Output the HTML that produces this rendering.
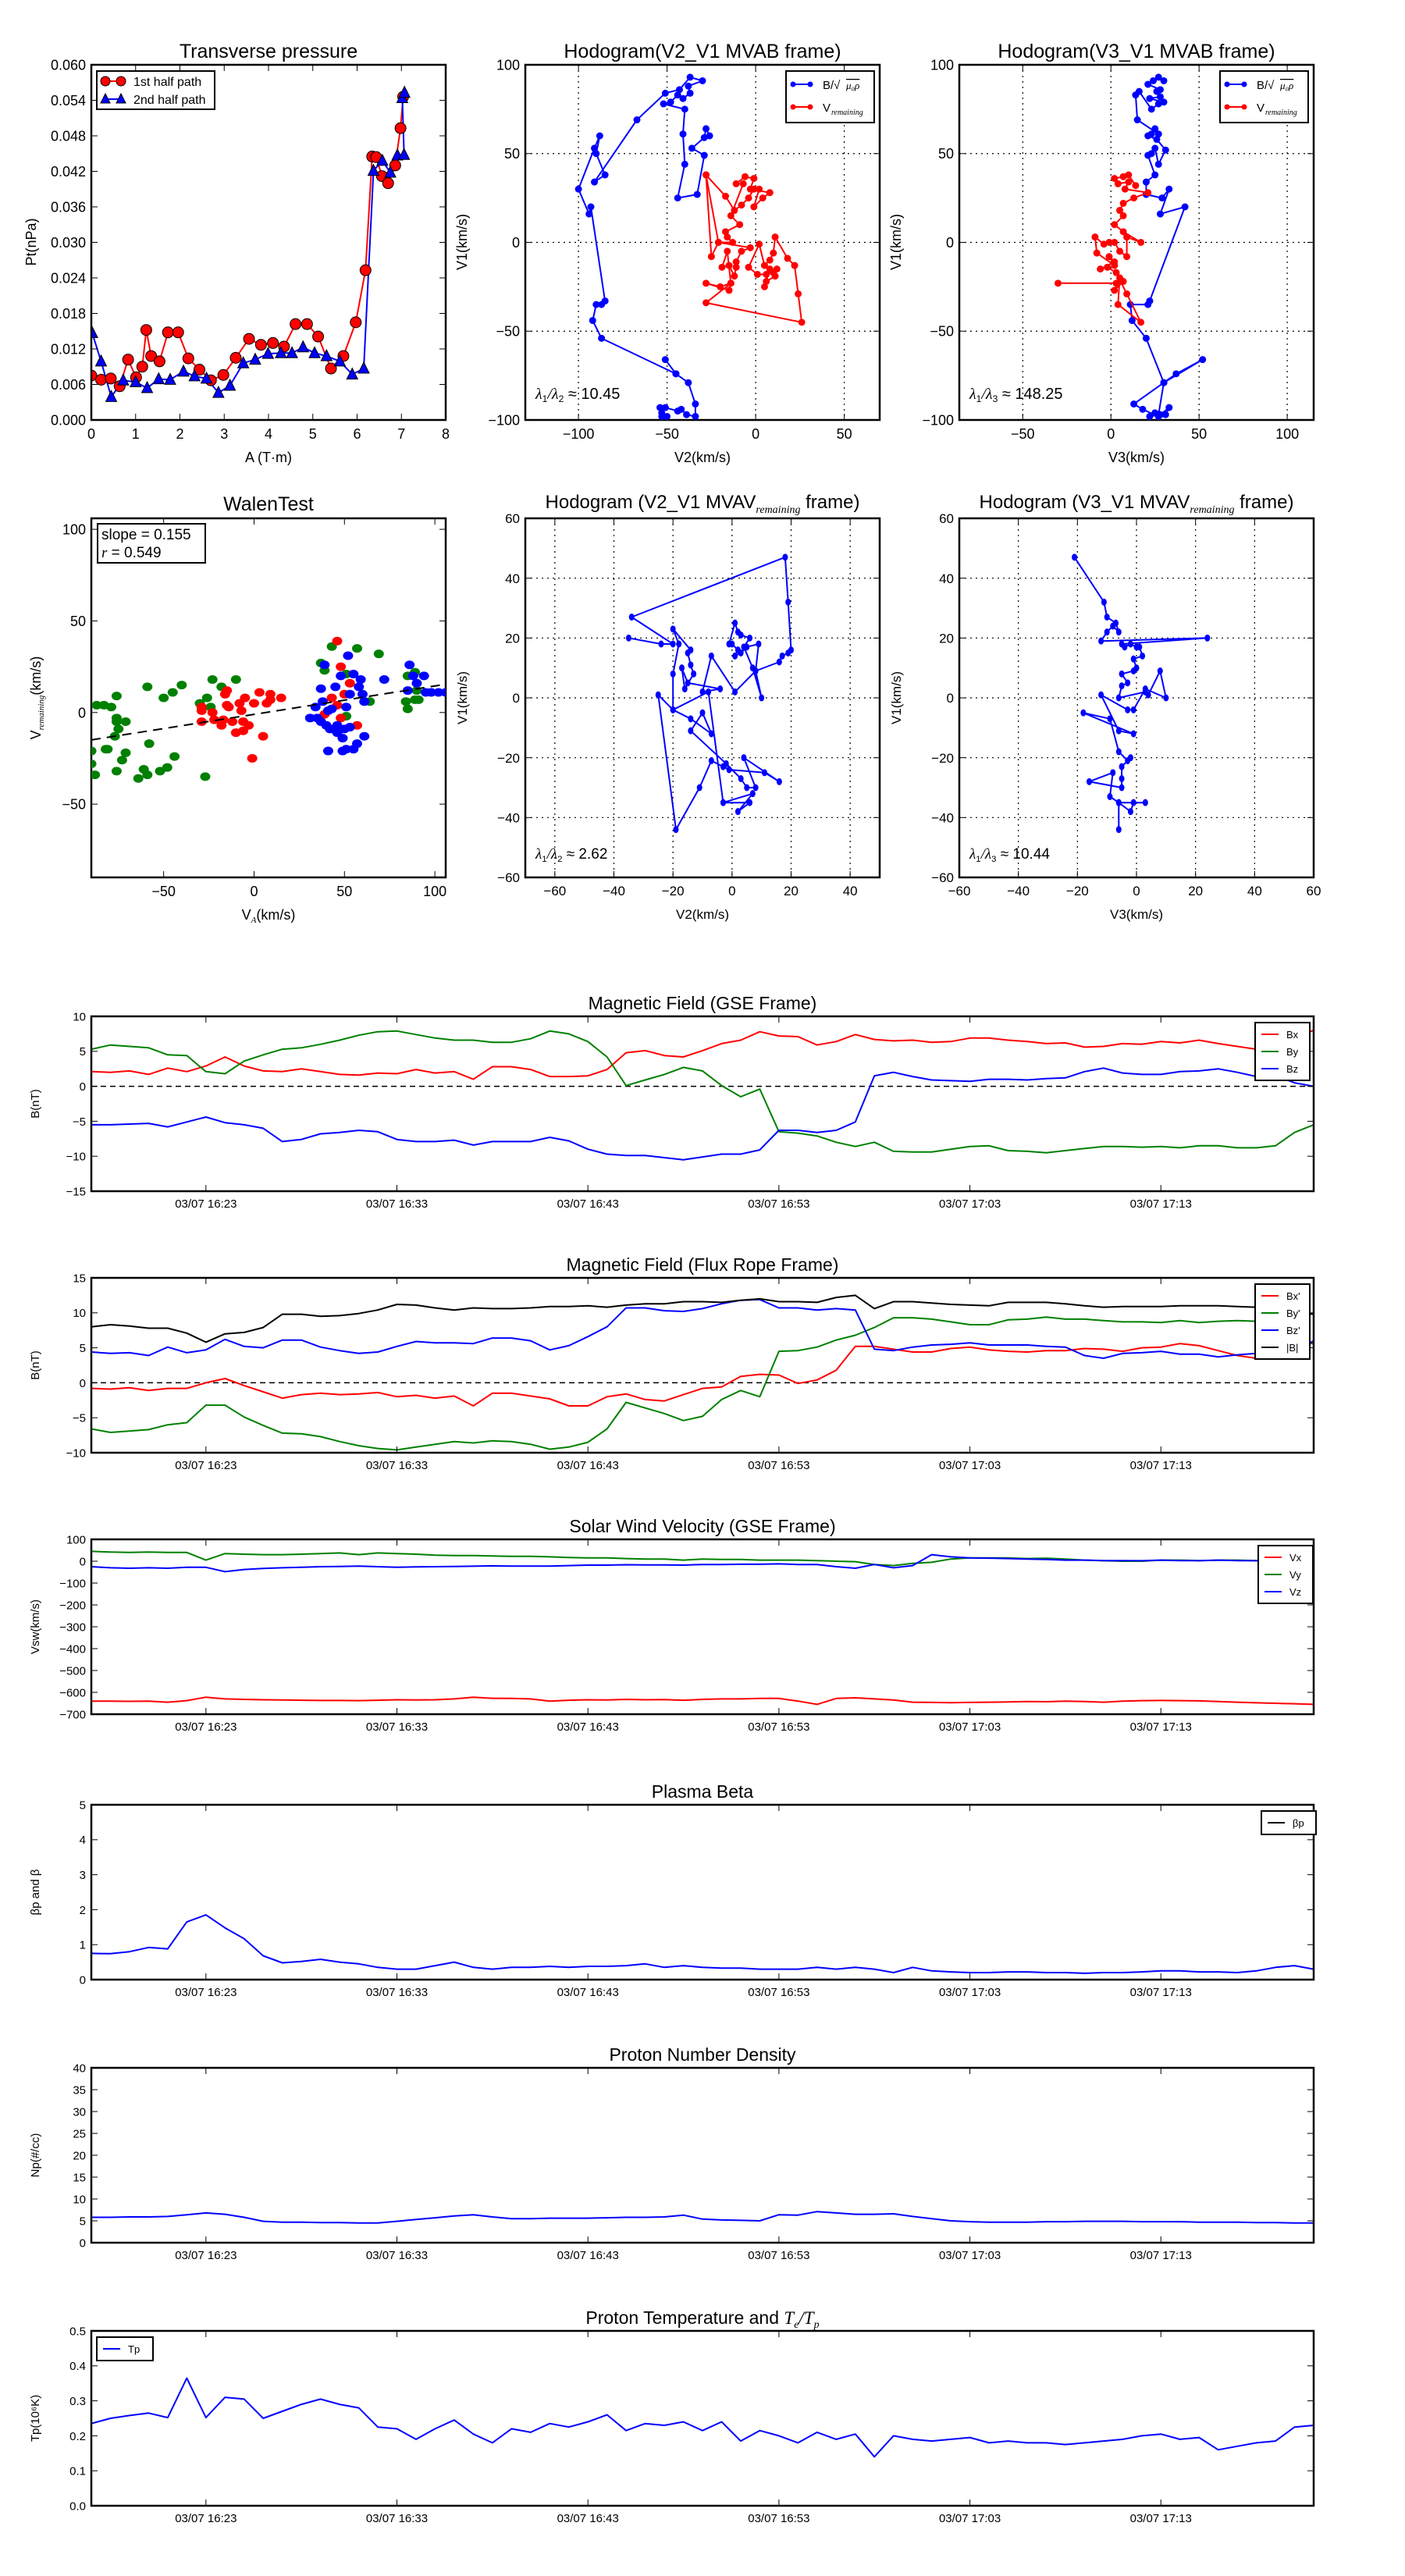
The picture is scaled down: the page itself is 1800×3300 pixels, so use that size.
<!DOCTYPE html>
<html><head><meta charset="utf-8"><style>
html,body{margin:0;padding:0;background:#fff;}
svg{display:block;font-family:"Liberation Sans",sans-serif;}
</style></head><body>
<svg id="fig" xmlns="http://www.w3.org/2000/svg" width="1800" height="3300" viewBox="0 0 1800 3300"><defs id="defs"></defs></svg>
<script>
// ---------- DATA ----------
const ptRedA=[0,0.22,0.44,0.64,0.83,1.01,1.15,1.24,1.35,1.54,1.73,1.96,2.19,2.44,2.70,2.98,3.26,3.56,3.83,4.10,4.35,4.61,4.87,5.12,5.41,5.69,5.97,6.19,6.34,6.43,6.56,6.70,6.86,6.98,7.04];
const ptRedP=[0.0075,0.0068,0.007,0.0057,0.0102,0.0072,0.009,0.0152,0.0108,0.0099,0.0148,0.0148,0.0104,0.0085,0.0067,0.0076,0.0105,0.0137,0.0127,0.013,0.0124,0.0162,0.0162,0.0141,0.0087,0.0108,0.0165,0.0253,0.0445,0.0444,0.0412,0.040,0.043,0.0493,0.0546];
const ptBlueA=[0.02,0.22,0.45,0.72,1.0,1.26,1.52,1.78,2.08,2.33,2.60,2.87,3.13,3.43,3.70,3.99,4.28,4.53,4.78,5.04,5.31,5.61,5.89,6.15,6.37,6.57,6.75,6.91,7.06,7.02,7.07];
const ptBlueP=[0.0147,0.0099,0.0039,0.0067,0.0064,0.0054,0.0069,0.0068,0.0082,0.0074,0.007,0.0046,0.0058,0.0096,0.0102,0.0112,0.0113,0.0113,0.0123,0.0113,0.0108,0.0099,0.0077,0.0087,0.0421,0.0438,0.0418,0.0447,0.0448,0.0544,0.0553];
const ptXTicks=[0,1,2,3,4,5,6,7,8];
const ptYTicks=[0,0.006,0.012,0.018,0.024,0.030,0.036,0.042,0.048,0.054,0.060];

const h1Blue=[[-53,-98],[-50,-98],[-53,-96],[-54,-93],[-51,-93],[-44,-95],[-42,-94],[-39,-97],[-34,-98],[-34,-91],[-38,-79],[-45,-74],[-51,-66],[-45,-74],[-87,-54],[-92,-44],[-90,-35],[-87,-35],[-85,-33],[-93,20],[-94,16],[-100,30],[-91,53],[-88,60],[-90,50],[-85,38],[-91,34],[-67,69],[-51,84],[-43,86],[-37,93],[-30,91],[-38,88],[-37,84],[-41,81],[-44,83],[-48,79],[-52,78],[-40,75],[-41,61],[-40,44],[-44,25],[-33,27],[-29,49],[-36,53],[-29,59],[-28,64],[-26,60]];
const h1Red=[[-28,38],[-17,26],[-12,18],[-8,21],[-4,25],[-1,30],[2,30],[-1,20],[4,25],[8,28],[-3,30],[-1,36],[-6,37],[-11,33],[-7,33],[-14,15],[-9,10],[-17,6],[-16,3],[-13,0],[-21,0],[-25,-8],[-28,38],[-21,0],[-3,-3],[-8,-5],[-11,-11],[-11,-14],[-12,-19],[-15,-13],[-19,-14],[-16,-5],[-14,-23],[-15,-27],[-28,-23],[-20,-25],[-14,-23],[-28,-34],[26,-45],[24,-29],[22,-13],[18,-9],[11,3],[10,-6],[8,-10],[5,-13],[2,-1],[-4,-14],[1,-18],[6,-18],[10,-17],[12,-15],[11,-19],[6,-22],[5,-25],[8,-15]];
const h2Blue=[[22,-98],[28,-97],[33,-93],[31,-97],[25,-96],[27,-98],[18,-94],[13,-91],[30,-79],[37,-74],[52,-66],[30,-79],[27,-97],[30,-79],[20,-54],[12,-44],[11,-35],[21,-35],[22,-33],[42,20],[28,16],[33,30],[29,25],[20,27],[20,34],[25,38],[21,49],[23,50],[25,53],[27,44],[31,52],[26,58],[21,60],[23,61],[25,64],[27,61],[15,69],[14,83],[16,85],[23,75],[27,78],[30,79],[22,81],[28,82],[26,85],[28,86],[21,89],[24,91],[27,93],[30,91]];
const h2Red=[[-30,-23],[3,-23],[7,-22],[2,-27],[5,-20],[4,-35],[17,-45],[9,-29],[3,-17],[-2,-14],[-6,-15],[2,-11],[-1,-8],[2,-13],[-8,-6],[-9,3],[-4,-1],[-1,0],[2,0],[5,-5],[9,-8],[9,3],[17,0],[7,6],[2,10],[7,15],[5,18],[7,22],[13,25],[21,28],[8,30],[10,34],[4,33],[2,36],[7,37],[10,38],[14,32]];

const walenGreen=[[-90,-21],[-90,-28],[-88,-34],[-87,4],[-83,4],[-79,3],[-76,9],[-76,-3],[-76,-5],[-75,-9],[-71,-5],[-77,-13],[-82,-20],[-81,-20],[-76,-32],[-73,-26],[-71,-22],[-64,-36],[-61,-31],[-59,-34],[-58,-17],[-59,14],[-50,8],[-52,-32],[-48,-30],[-45,11],[-44,-24],[-40,15],[-30,5],[-27,-35],[-26,8],[-24,3],[-23,18],[-18,14],[-10,18],[37,27],[39,23],[43,36],[51,21],[51,-2],[57,35],[64,6],[69,32],[84,6],[85,2],[85,20],[89,22],[89,7],[91,7],[90,12]];
const walenRed=[[-29,3],[-29,-5],[-29,1],[-23,0],[-22,-4],[-18,-7],[-17,-4],[-16,10],[-15,12],[-15,4],[-14,3],[-12,-5],[-10,-11],[-8,5],[-7,1],[-6,-5],[-6,-10],[-5,8],[-3,-7],[-1,-25],[0,5],[3,11],[5,-13],[7,5],[9,10],[9,7],[15,8],[39,-1],[46,39],[48,25],[48,-3],[53,16],[57,-7],[43,8],[46,4],[50,10]];
const walenBlue=[[31,-3],[34,3],[35,-3],[37,-5],[37,13],[38,6],[39,26],[40,-7],[41,-21],[41,1],[42,-9],[43,2],[45,14],[46,-7],[46,-11],[48,20],[49,-14],[49,-21],[50,-9],[51,3],[51,-20],[52,31],[53,10],[53,-8],[55,-20],[55,21],[57,-17],[58,14],[59,18],[60,10],[61,6],[61,-13],[72,18],[85,12],[86,26],[88,20],[90,16],[94,20],[95,11],[98,11],[102,11],[106,11]];
const walenSlope=0.155, walenIntercept=-1;

const h3Blue=[[-35,20],[-24,18],[-20,18],[-34,27],[18,47],[19,32],[20,16],[19,15],[17,14],[16,12],[8,9],[9,18],[5,17],[3,15],[1,14],[2,16],[0,18],[-1,18],[1,25],[2,22],[3,21],[6,20],[4,17],[7,10],[10,0],[8,9],[1,2],[-7,14],[-10,2],[-4,3],[-15,5],[-17,10],[-16,3],[-13,8],[-14,11],[-15,15],[-14,16],[-20,23],[-18,18],[-20,8],[-20,-4],[-25,1],[-19,-44],[-11,-30],[-7,-21],[-3,-23],[-1,-24],[11,-25],[16,-28],[4,-20],[8,-30],[5,-30],[3,-27],[-2,-22],[-14,-11],[-10,-5],[-7,-12],[-14,-7],[-20,-4],[-8,2],[-3,-35],[6,-35],[2,-38],[7,-32],[-3,-35]];
const h4Blue=[[-21,47],[-11,32],[-10,27],[-7,25],[-6,22],[-8,24],[-10,22],[-12,19],[24,20],[-5,18],[-4,17],[-2,18],[0,17],[1,17],[2,14],[-1,13],[0,10],[-1,9],[-5,8],[-3,5],[-5,4],[-6,0],[3,2],[4,1],[8,9],[10,0],[3,3],[-1,-4],[-3,-4],[-12,1],[-6,-11],[-1,-12],[-18,-5],[-9,-7],[-6,-18],[-3,-21],[-2,-20],[-5,-23],[-5,-27],[-5,-30],[-16,-28],[-8,-25],[-9,-33],[-6,-35],[-2,-38],[-1,-35],[3,-35],[-6,-35],[-6,-44]];

const timeTickLabels=["03/07 16:23","03/07 16:33","03/07 16:43","03/07 16:53","03/07 17:03","03/07 17:13"];
const timeTickMinutes=[6,16,26,36,46,56];
const gseBx=[2.1,2.0,2.2,1.7,2.6,2.1,2.9,4.2,2.9,2.2,2.1,2.5,2.1,1.7,1.6,1.9,1.8,2.4,1.9,2.1,1.0,2.8,2.8,2.4,1.4,1.4,1.5,2.4,4.8,5.1,4.4,4.2,5.1,6.1,6.6,7.8,7.2,7.1,5.9,6.4,7.4,6.7,6.5,6.6,6.3,6.4,6.9,6.9,6.6,6.4,6.1,6.2,5.6,5.7,6.1,6.0,6.4,6.2,6.6,6.1,5.7,5.3,5.0,7.0,8.0];
const gseBy=[5.3,5.9,5.7,5.5,4.5,4.4,2.1,1.8,3.6,4.5,5.3,5.5,6.0,6.6,7.3,7.8,7.9,7.4,6.9,6.6,6.6,6.3,6.3,6.8,7.9,7.5,6.4,4.2,0.1,0.9,1.7,2.7,2.2,0.1,-1.5,-0.4,-6.5,-6.7,-7.1,-8.0,-8.6,-8.0,-9.3,-9.4,-9.4,-9.0,-8.6,-8.5,-9.2,-9.3,-9.5,-9.2,-8.9,-8.6,-8.6,-8.7,-8.6,-8.8,-8.5,-8.5,-8.8,-8.8,-8.5,-6.6,-5.5];
const gseBz=[-5.5,-5.5,-5.4,-5.3,-5.8,-5.1,-4.4,-5.2,-5.5,-6.0,-7.9,-7.6,-6.8,-6.6,-6.3,-6.5,-7.6,-7.9,-7.9,-7.7,-8.4,-7.9,-7.9,-7.9,-7.3,-7.8,-9.0,-9.7,-9.9,-9.9,-10.2,-10.5,-10.1,-9.7,-9.7,-9.1,-6.3,-6.3,-6.6,-6.3,-5.1,1.5,2.0,1.4,0.9,0.8,0.7,1.0,1.0,0.9,1.1,1.2,2.1,2.6,1.9,1.7,1.7,2.1,2.2,2.5,2.0,1.4,1.5,0.5,0.0];
const frBx=[-0.8,-0.9,-0.7,-1.1,-0.8,-0.8,0.0,0.6,-0.4,-1.3,-2.2,-1.7,-1.5,-1.7,-1.6,-1.4,-2.0,-1.8,-2.2,-1.9,-3.3,-1.5,-1.5,-1.9,-2.3,-3.3,-3.3,-2.0,-1.6,-2.4,-2.6,-1.7,-0.8,-0.6,0.9,1.2,1.1,-0.1,0.4,1.8,5.2,5.2,4.8,4.4,4.4,4.9,5.1,4.7,4.5,4.4,4.6,4.6,4.9,4.8,4.5,5.0,5.1,5.6,5.3,4.6,3.9,3.5,3.8,4.5,5.8];
const frBy=[-6.6,-7.1,-6.9,-6.7,-6.0,-5.7,-3.2,-3.2,-4.9,-6.1,-7.2,-7.3,-7.7,-8.4,-9.0,-9.4,-9.6,-9.2,-8.8,-8.4,-8.6,-8.3,-8.4,-8.8,-9.5,-9.2,-8.5,-6.6,-2.8,-3.6,-4.4,-5.4,-4.8,-2.4,-1.1,-2.0,4.5,4.6,5.1,6.1,6.8,7.9,9.3,9.3,9.1,8.7,8.3,8.3,9.0,9.1,9.4,9.1,9.1,8.9,8.7,8.7,8.6,8.9,8.6,8.8,8.9,8.8,8.9,7.0,5.5];
const frBz=[4.4,4.2,4.3,3.9,5.1,4.3,4.7,6.2,5.2,5.0,6.1,6.1,5.1,4.6,4.2,4.4,5.2,5.9,5.7,5.7,5.6,6.4,6.4,6.0,4.7,5.3,6.6,8.0,10.7,10.7,10.3,10.2,10.6,11.3,11.8,11.9,10.7,10.7,10.4,10.6,10.4,4.8,4.6,5.1,5.4,5.5,5.7,5.4,5.4,5.4,5.2,5.1,3.9,3.5,4.2,4.3,4.5,4.1,4.1,3.7,4.0,4.2,3.5,4.5,6.0];
const frBt=[8.0,8.3,8.1,7.8,7.8,7.1,5.8,7.0,7.2,7.9,9.8,9.8,9.5,9.6,9.9,10.4,11.2,11.1,10.7,10.4,10.7,10.6,10.6,10.7,10.9,10.9,11.0,10.8,11.1,11.3,11.3,11.6,11.6,11.5,11.8,12.0,11.6,11.6,11.5,12.2,12.5,10.6,11.6,11.6,11.4,11.2,11.1,11.0,11.5,11.5,11.5,11.3,11.0,10.8,10.9,10.9,10.9,11.0,11.0,11.0,10.9,10.8,10.5,10.0,9.8];
const swVx=[-640,-640,-641,-640,-645,-638,-622,-630,-632,-634,-635,-636,-637,-637,-638,-636,-634,-635,-634,-630,-622,-627,-628,-630,-640,-636,-634,-635,-632,-634,-633,-636,-632,-630,-630,-628,-628,-640,-655,-628,-625,-630,-635,-645,-646,-647,-646,-645,-644,-642,-643,-640,-642,-645,-640,-638,-637,-638,-639,-642,-645,-648,-650,-652,-655];
const swVy=[45,42,40,42,40,40,5,35,32,30,30,32,35,38,30,38,35,32,28,26,26,24,22,22,20,17,15,15,12,10,10,5,10,8,8,5,5,5,3,0,-2,-15,-20,-10,-5,10,15,15,15,12,14,10,5,2,0,0,5,5,3,5,5,3,2,5,3];
const swVz=[-25,-30,-32,-30,-32,-28,-28,-48,-38,-33,-30,-28,-25,-24,-22,-25,-28,-26,-25,-24,-23,-21,-22,-22,-22,-20,-18,-18,-16,-17,-17,-18,-15,-15,-14,-14,-12,-15,-15,-25,-32,-15,-30,-20,30,20,15,14,12,10,8,5,5,3,3,2,5,3,2,5,3,2,3,5,4];
const betaP=[0.75,0.74,0.8,0.92,0.88,1.65,1.85,1.48,1.17,0.68,0.48,0.52,0.58,0.5,0.45,0.35,0.3,0.3,0.4,0.5,0.35,0.3,0.35,0.35,0.38,0.35,0.38,0.38,0.4,0.45,0.35,0.4,0.35,0.33,0.33,0.3,0.3,0.3,0.35,0.3,0.35,0.3,0.2,0.35,0.25,0.22,0.2,0.2,0.22,0.22,0.2,0.2,0.18,0.2,0.2,0.22,0.25,0.25,0.22,0.22,0.2,0.25,0.35,0.4,0.3];
const densNp=[5.8,5.8,5.9,5.9,6.0,6.4,6.8,6.5,5.8,4.9,4.7,4.7,4.6,4.6,4.5,4.5,4.9,5.3,5.7,6.1,6.4,5.9,5.5,5.5,5.6,5.6,5.6,5.7,5.8,5.8,5.9,6.3,5.4,5.2,5.1,5.0,6.4,6.3,7.1,6.8,6.5,6.5,6.6,6.0,5.5,5.0,4.8,4.7,4.7,4.7,4.8,4.8,4.9,4.9,4.9,4.8,4.8,4.8,4.7,4.7,4.7,4.6,4.6,4.5,4.5];
const tempTp=[0.235,0.25,0.258,0.265,0.252,0.365,0.252,0.31,0.305,0.25,0.27,0.29,0.305,0.29,0.28,0.225,0.22,0.19,0.22,0.245,0.205,0.18,0.22,0.21,0.235,0.225,0.24,0.26,0.215,0.235,0.23,0.24,0.215,0.24,0.185,0.215,0.2,0.18,0.21,0.19,0.205,0.14,0.2,0.19,0.185,0.19,0.195,0.18,0.185,0.18,0.18,0.175,0.18,0.185,0.19,0.2,0.205,0.19,0.195,0.16,0.17,0.18,0.185,0.225,0.23,0.2];

// ---------- HELPERS ----------
const NS='http://www.w3.org/2000/svg';
const svg=document.getElementById('fig');
const defs=document.getElementById('defs');
function mk(parent,tag,attrs,text){const e=document.createElementNS(NS,tag);for(const k in attrs)e.setAttribute(k,attrs[k]);if(text!==undefined)e.textContent=text;parent.appendChild(e);return e;}
function panel(L,T,W,H,xr,yr){return {L,T,W,H,sx:v=>L+(v-xr[0])/(xr[1]-xr[0])*W,sy:v=>T+H-(v-yr[0])/(yr[1]-yr[0])*H};}
let clipN=0;
function clipGroup(p){
  clipN++;
  const cp=mk(defs,'clipPath',{id:'c'+clipN});
  mk(cp,'rect',{x:p.L,y:p.T,width:p.W,height:p.H});
  const g=mk(svg,'g',{'clip-path':'url(#c'+clipN+')'});
  
  
  return g;
}
function decorate(p,xt,xl,yt,yl,fs,grid,ff){
  const g=mk(svg,'g',{});
  
  
  ff=ff||'"Liberation Sans",sans-serif';
  if(grid){
    xt.forEach(v=>{const x=p.sx(v);const l=mk(g,'line',{x1:x,x2:x,y1:p.T,y2:p.T+p.H,stroke:'#000','stroke-width':1.2,'stroke-dasharray':'2,5'});});
    yt.forEach(v=>{const y=p.sy(v);const l=mk(g,'line',{x1:p.L,x2:p.L+p.W,y1:y,y2:y,stroke:'#000','stroke-width':1.2,'stroke-dasharray':'2,5'});});
  }
  xt.forEach((v,i)=>{const x=p.sx(v);
    mk(g,'line',{x1:x,x2:x,y1:p.T+p.H,y2:p.T+p.H-8,stroke:'#000','stroke-width':1});
    mk(g,'line',{x1:x,x2:x,y1:p.T,y2:p.T+8,stroke:'#000','stroke-width':1});
    const t=mk(g,'text',{x:x,y:p.T+p.H+fs+6,'font-size':fs,'text-anchor':'middle','font-family':ff},xl[i]);
    });
  yt.forEach((v,i)=>{const y=p.sy(v);
    mk(g,'line',{x1:p.L,x2:p.L+8,y1:y,y2:y,stroke:'#000','stroke-width':1});
    mk(g,'line',{x1:p.L+p.W,x2:p.L+p.W-8,y1:y,y2:y,stroke:'#000','stroke-width':1});
    const t=mk(g,'text',{x:p.L-7,y:y+fs*0.36,'font-size':fs,'text-anchor':'end','font-family':ff},yl[i]);
    });
  const r=mk(g,'rect',{x:p.L,y:p.T,width:p.W,height:p.H,fill:'none',stroke:'#000','stroke-width':2.5});
  
}
function text(x,y,s,fs,name,extra){const t=mk(svg,'text',Object.assign({x:x,y:y,'font-size':fs,'text-anchor':'middle'},extra||{}),s);return t;}
function ylabel(x,y,s,fs,name){const t=mk(svg,'text',{x:0,y:0,'font-size':fs,'text-anchor':'middle',transform:'translate('+x+','+y+') rotate(-90)'},s);return t;}
function polyline(g,pts,color,w,name){const l=mk(g,'polyline',{points:pts.map(q=>q[0].toFixed(1)+','+q[1].toFixed(1)).join(' '),fill:'none',stroke:color,'stroke-width':w,'stroke-linejoin':'round'});return l;}
function dots(g,pts,color,r,name,rx){pts.forEach(q=>{const c=mk(g,'ellipse',{cx:q[0],cy:q[1],rx:rx||r,ry:r,fill:color});});}
function fmt(v,d){return (v<0?'\u2212':'')+Math.abs(v).toFixed(d);}

// ---------- PANEL 1 ----------
(function(){
  const p=panel(117,83,454,455,[0,8],[0,0.060]);
  const g=clipGroup(p);
  const red=ptRedA.map((a,i)=>[p.sx(a),p.sy(ptRedP[i])]);
  const blue=ptBlueA.map((a,i)=>[p.sx(a),p.sy(ptBlueP[i])]);
  polyline(g,red,'#f00',2,'first-half-path-line');
  polyline(g,blue,'#00f',2,'second-half-path-line');
  red.forEach(q=>{const c=mk(g,'circle',{cx:q[0],cy:q[1],r:7,fill:'#f00',stroke:'#000','stroke-width':1});});
  blue.forEach(q=>{const t=mk(g,'polygon',{points:[q[0],q[1]-8,q[0]-7,q[1]+6,q[0]+7,q[1]+6].join(','),fill:'#00f',stroke:'#000','stroke-width':1});});
  decorate(p,ptXTicks,ptXTicks.map(v=>String(v)),ptYTicks,ptYTicks.map(v=>v.toFixed(3)),18,false);
  text(344,74,'Transverse pressure',25,'chart-title-transverse-pressure');
  text(344,592,'A (T\u00b7m)',18,'x-axis-title');
  ylabel(46,310,'Pt(nPa)',18,'y-axis-title');
  const lg=mk(svg,'g',{});
  mk(lg,'rect',{x:124,y:91,width:151,height:49,fill:'#fff',stroke:'#000','stroke-width':2});
  mk(lg,'line',{x1:135,x2:155,y1:104,y2:104,stroke:'#f00','stroke-width':2});
  mk(lg,'circle',{cx:135,cy:104,r:6,fill:'#f00',stroke:'#000'});mk(lg,'circle',{cx:155,cy:104,r:6,fill:'#f00',stroke:'#000'});
  mk(lg,'line',{x1:135,x2:155,y1:127,y2:127,stroke:'#00f','stroke-width':2});
  mk(lg,'polygon',{points:'135,120 129,132 141,132',fill:'#00f',stroke:'#000'});mk(lg,'polygon',{points:'155,120 149,132 161,132',fill:'#00f',stroke:'#000'});
  const a=mk(lg,'text',{x:171,y:110,'font-size':16},'1st half path');
  const b=mk(lg,'text',{x:171,y:133,'font-size':16},'2nd half path');
})();

function hodoLegend(x,y){
  const lg=mk(svg,'g',{});
  mk(lg,'rect',{x:x,y:y,width:113,height:66,fill:'#fff',stroke:'#000','stroke-width':2});
  mk(lg,'line',{x1:x+9,x2:x+31,y1:y+17,y2:y+17,stroke:'#00f','stroke-width':2});
  mk(lg,'circle',{cx:x+9,cy:y+17,r:3.5,fill:'#00f'});mk(lg,'circle',{cx:x+31,cy:y+17,r:3.5,fill:'#00f'});
  mk(lg,'line',{x1:x+9,x2:x+31,y1:y+46,y2:y+46,stroke:'#f00','stroke-width':2});
  mk(lg,'circle',{cx:x+9,cy:y+46,r:3.5,fill:'#f00'});mk(lg,'circle',{cx:x+31,cy:y+46,r:3.5,fill:'#f00'});
  const a=mk(lg,'text',{x:x+47,y:y+23,'font-size':15},'B/\u221A');
  const a2=mk(lg,'text',{x:x+77,y:y+23,'font-size':13,'font-style':'italic','font-family':'"Liberation Serif",serif','text-decoration':'overline'},'\u03bc\u2080\u03c1');
  const b=mk(lg,'text',{x:x+47,y:y+52,'font-size':15},'V');
  const b2=mk(lg,'text',{x:x+58,y:y+56,'font-size':10,'font-style':'italic','font-family':'"Liberation Serif",serif'},'remaining');
}
function lambdaText(x,y,a,b,val,fs){
  const t=mk(svg,'text',{x:x,y:y,'font-size':fs});
  
  mk(t,'tspan',{'font-style':'italic','font-family':'"Liberation Serif",serif'},'\u03bb');
  mk(t,'tspan',{'font-size':fs*0.6,dy:4},a);
  mk(t,'tspan',{dy:-4,'font-style':'italic','font-family':'"Liberation Serif",serif'},'/\u03bb');
  mk(t,'tspan',{'font-size':fs*0.6,dy:4},b);
  mk(t,'tspan',{dy:-4},' \u2248 '+val);
}
const hodoTicks100=[-100,-50,0,50,100];
function hodo(L,xr,blue,red,title,xlab,lam,lamB,legX){
  const p=panel(L,83,454,455,xr,[-100,100]);
  const xt=[-100,-50,0,50,100].filter(v=>v>=xr[0]&&v<=xr[1]);
  decorate(p,xt,xt.map(v=>fmt(v,0)),hodoTicks100,hodoTicks100.map(v=>fmt(v,0)),18,true);
  const g=clipGroup(p);
  const bp=blue.map(q=>[p.sx(q[0]),p.sy(q[1])]);
  const rp=red.map(q=>[p.sx(q[0]),p.sy(q[1])]);
  polyline(g,bp,'#00f',2,'magnetic-hodogram-line');dots(g,bp,'#00f',4.5,'magnetic-hodogram-point');
  polyline(g,rp,'#f00',2,'velocity-hodogram-line');dots(g,rp,'#f00',4.5,'velocity-hodogram-point');
  text(L+227,74,title,25,'chart-title');
  text(L+227,592,xlab,18,'x-axis-title');
  ylabel(L-75,310,'V1(km/s)',18,'y-axis-title');
  lambdaText(L+13,511,'1',lamB,lam,20);
  hodoLegend(legX,91);
}
hodo(673,[-130,70],h1Blue,h1Red,'Hodogram(V2_V1 MVAB frame)','V2(km/s)','10.45','2',1007);
hodo(1229,[-86,115],h2Blue,h2Red,'Hodogram(V3_V1 MVAB frame)','V3(km/s)','148.25','3',1563);

// ---------- WALEN TEST ----------
(function(){
  const p=panel(117,664,454,460,[-90,106],[-90,106]);
  const xt=[-50,0,50,100],yt=[-50,0,50,100];
  decorate(p,xt,xt.map(v=>fmt(v,0)),yt,yt.map(v=>fmt(v,0)),18,false);
  const g=clipGroup(p);
  dots(g,walenGreen.map(q=>[p.sx(q[0]),p.sy(q[1])]),'#008000',5.5,'walen-point-green',6.5);
  dots(g,walenRed.map(q=>[p.sx(q[0]),p.sy(q[1])]),'#f00',5.5,'walen-point-red',6.5);
  dots(g,walenBlue.map(q=>[p.sx(q[0]),p.sy(q[1])]),'#00f',5.5,'walen-point-blue',6.5);
  const l=mk(g,'line',{x1:p.sx(-90),y1:p.sy(walenSlope*-90+walenIntercept),x2:p.sx(106),y2:p.sy(walenSlope*106+walenIntercept),stroke:'#000','stroke-width':2,'stroke-dasharray':'12,8'});
  
  const bx=mk(svg,'rect',{x:125,y:671,width:138,height:50,fill:'#fff',stroke:'#000','stroke-width':2});
  
  text(130,691,'slope = 0.155',19,'slope-text',{'text-anchor':'start'});
  const r=text(130,714,'',19,'r-text',{'text-anchor':'start'});
  mk(r,'tspan',{'font-style':'italic','font-family':'"Liberation Serif",serif'},'r');
  mk(r,'tspan',{},' = 0.549');
  text(344,654,'WalenTest',25,'chart-title-walen');
  const xl=text(344,1178,'V',18,'x-axis-title');
  mk(xl,'tspan',{'font-size':11,dy:4,'font-style':'italic','font-family':'"Liberation Serif",serif'},'A');
  mk(xl,'tspan',{dy:-4},'(km/s)');
  const yl=ylabel(52,894,'V',18,'y-axis-title');
  mk(yl,'tspan',{'font-size':11,dy:4,'font-style':'italic','font-family':'"Liberation Serif",serif'},'remaining');
  mk(yl,'tspan',{dy:-4},'(km/s)');
})();

function hodo2(L,xr,xt,pts,title1,xlab,lam,lamB){
  const p=panel(L,664,454,460,xr,[-60,60]);
  const yt=[-60,-40,-20,0,20,40,60];
  decorate(p,xt,xt.map(v=>fmt(v,0)),yt,yt.map(v=>fmt(v,0)),17,true);
  const g=clipGroup(p);
  const pp=pts.map(q=>[p.sx(q[0]),p.sy(q[1])]);
  polyline(g,pp,'#00f',2,'hodogram-line');dots(g,pp,'#00f',4.5,'hodogram-point',3.5);
  const t=text(L+227,651,title1,24,'chart-title');
  mk(t,'tspan',{'font-size':14,dy:6,'font-style':'italic','font-family':'"Liberation Serif",serif'},'remaining');
  mk(t,'tspan',{dy:-6},' frame)');
  text(L+227,1177,xlab,17,'x-axis-title');
  ylabel(L-75,894,'V1(km/s)',17,'y-axis-title');
  lambdaText(L+13,1100,'1',lamB,lam,19);
}
hodo2(673,[-70,50],[-60,-40,-20,0,20,40],h3Blue,'Hodogram (V2_V1 MVAV','V2(km/s)','2.62','2');
hodo2(1229,[-60,60],[-60,-40,-20,0,20,40,60],h4Blue,'Hodogram (V3_V1 MVAV','V3(km/s)','10.44','3');

// ---------- TIME SERIES ----------
function tsPanel(T,yr,yt,ydec,title,ylab,series,legend,zeroLine){
  const p=panel(117,T,1566,224,[0,64],yr);
  const g=clipGroup(p);
  if(zeroLine){const z=mk(g,'line',{x1:p.L,x2:p.L+p.W,y1:p.sy(0),y2:p.sy(0),stroke:'#000','stroke-width':1.5,'stroke-dasharray':'7,5'});}
  series.forEach(s=>{polyline(g,s.v.map((v,i)=>[p.sx(i),p.sy(v)]),s.c,2,s.n);});
  decorate(p,timeTickMinutes,timeTickLabels,yt,yt.map(v=>fmt(v,ydec)),15,false);
  const tt=text(900,T-9,title,23,'chart-title');
  ylabel(50,T+112,ylab,15,'y-axis-title');
  if(legend){
    const lg=mk(svg,'g',{});
    const lx=legend.x,ly=T+8,h=legend.items.length*22+8,w=legend.w||70;
    mk(lg,'rect',{x:lx,y:ly,width:w,height:h,fill:'#fff',stroke:'#000','stroke-width':2});
    legend.items.forEach((it,i)=>{const y=ly+15+i*22;
      mk(lg,'line',{x1:lx+8,x2:lx+30,y1:y,y2:y,stroke:it.c,'stroke-width':2});
      const t=mk(lg,'text',{x:lx+40,y:y+5,'font-size':13},it.t);});
  }
  return tt;
}
tsPanel(1302,[-15,10],[-15,-10,-5,0,5,10],0,'Magnetic Field (GSE Frame)','B(nT)',
  [{v:gseBx,c:'#f00',n:'bx-line'},{v:gseBy,c:'#008000',n:'by-line'},{v:gseBz,c:'#00f',n:'bz-line'}],
  {x:1608,items:[{t:'Bx',c:'#f00'},{t:'By',c:'#008000'},{t:'Bz',c:'#00f'}]},true);
tsPanel(1637,[-10,15],[-10,-5,0,5,10,15],0,'Magnetic Field (Flux Rope Frame)','B(nT)',
  [{v:frBx,c:'#f00',n:'bx-prime-line'},{v:frBy,c:'#008000',n:'by-prime-line'},{v:frBz,c:'#00f',n:'bz-prime-line'},{v:frBt,c:'#000',n:'b-total-line'}],
  {x:1608,items:[{t:"Bx'",c:'#f00'},{t:"By'",c:'#008000'},{t:"Bz'",c:'#00f'},{t:'|B|',c:'#000'}]},true);
tsPanel(1972,[-700,100],[-700,-600,-500,-400,-300,-200,-100,0,100],0,'Solar Wind Velocity (GSE Frame)','Vsw(km/s)',
  [{v:swVx,c:'#f00',n:'vx-line'},{v:swVy,c:'#008000',n:'vy-line'},{v:swVz,c:'#00f',n:'vz-line'}],
  {x:1612,items:[{t:'Vx',c:'#f00'},{t:'Vy',c:'#008000'},{t:'Vz',c:'#00f'}]},false);
tsPanel(2312,[0,5],[0,1,2,3,4,5],0,'Plasma Beta','\u03b2p and \u03b2',
  [{v:betaP,c:'#00f',n:'beta-p-line'}],
  {x:1616,items:[{t:'\u03b2p',c:'#000'}]},false);
tsPanel(2649,[0,40],[0,5,10,15,20,25,30,35,40],0,'Proton Number Density','Np(#/cc)',
  [{v:densNp,c:'#00f',n:'density-line'}],null,false);
const tTitle=tsPanel(2986,[0,0.5],[0,0.1,0.2,0.3,0.4,0.5],1,'Proton Temperature and ','Tp(10\u2076K)',
  [{v:tempTp,c:'#00f',n:'temperature-line'}],
  {x:124,w:72,items:[{t:'Tp',c:'#00f'}]},false);
mk(tTitle,'tspan',{'font-style':'italic','font-family':'"Liberation Serif",serif'},'T');
mk(tTitle,'tspan',{'font-size':14,dy:5,'font-style':'italic','font-family':'"Liberation Serif",serif'},'e');
mk(tTitle,'tspan',{dy:-5,'font-style':'italic','font-family':'"Liberation Serif",serif'},'/T');
mk(tTitle,'tspan',{'font-size':14,dy:5,'font-style':'italic','font-family':'"Liberation Serif",serif'},'p');
</script>
</body></html>
